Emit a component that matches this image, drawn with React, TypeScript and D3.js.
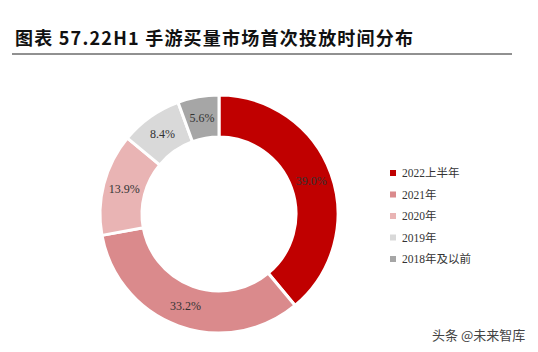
import React from "react";
import * as d3 from "d3";

const categories = ["2022上半年", "2021年", "2020年", "2019年", "2018年及以前"];
const values = [39.0, 33.2, 13.9, 8.4, 5.6];
const labels = ["39.0%", "33.2%", "13.9%", "8.4%", "5.6%"];
const colors = ["#C00000", "#DA8A8C", "#E9B4B4", "#D9D9D9", "#A6A6A6"];

export default function App() {
  const W = 538, H = 352;
  const cx = 219, cy = 214, rOuter = 119, rInner = 77;
  const pie = d3.pie<number>().sort(null).value((d) => d);
  const arcs = pie(values);
  const arc = d3.arc<d3.PieArcDatum<number>>().innerRadius(rInner).outerRadius(rOuter);
  const labelArc = d3.arc<d3.PieArcDatum<number>>().innerRadius((rInner + rOuter) / 2).outerRadius((rInner + rOuter) / 2);
  const legendY = d3.scaleLinear().domain([0, 4]).range([173, 259]);
  return (
    <svg width={W} height={H} style={{ position: "absolute", left: 0, top: 0, background: "#fff" }}>
      <text x={15} y={45} fontFamily="'Noto Sans CJK SC', sans-serif" fontWeight="bold" fontSize={18} fill="#111" textLength={398} lengthAdjust="spacing">
        图表 57.22H1 手游买量市场首次投放时间分布
      </text>
      <line x1={12} x2={512} y1={54} y2={54} stroke="#222" strokeWidth={1} />
      <g transform={`translate(${cx},${cy})`}>
        {arcs.map((a, i) => (
          <path key={i} d={arc(a) || ""} fill={colors[i]} stroke="#fff" strokeWidth={3} />
        ))}
        {arcs.map((a, i) => {
          const [x, y] = labelArc.centroid(a);
          return (
            <text key={i} x={x} y={y} dy="0.35em" textAnchor="middle" fontFamily="'Liberation Serif', serif" fontSize={12} fill="#333">
              {labels[i]}
            </text>
          );
        })}
      </g>
      {categories.map((c, i) => (
        <g key={c} transform={`translate(390,${legendY(i)})`}>
          <rect x={0} y={-3} width={6} height={6} fill={colors[i]} />
          <text x={12} y={0} dy="0.35em" fontFamily="'Liberation Serif', 'Noto Sans CJK SC', serif" fontSize={11.5} fill="#333">
            {c}
          </text>
        </g>
      ))}
      <text x={432} y={340} fontFamily="'Noto Sans CJK SC', sans-serif" fontSize={13} fill="#444">
        头条 @未来智库
      </text>
    </svg>
  );
}
